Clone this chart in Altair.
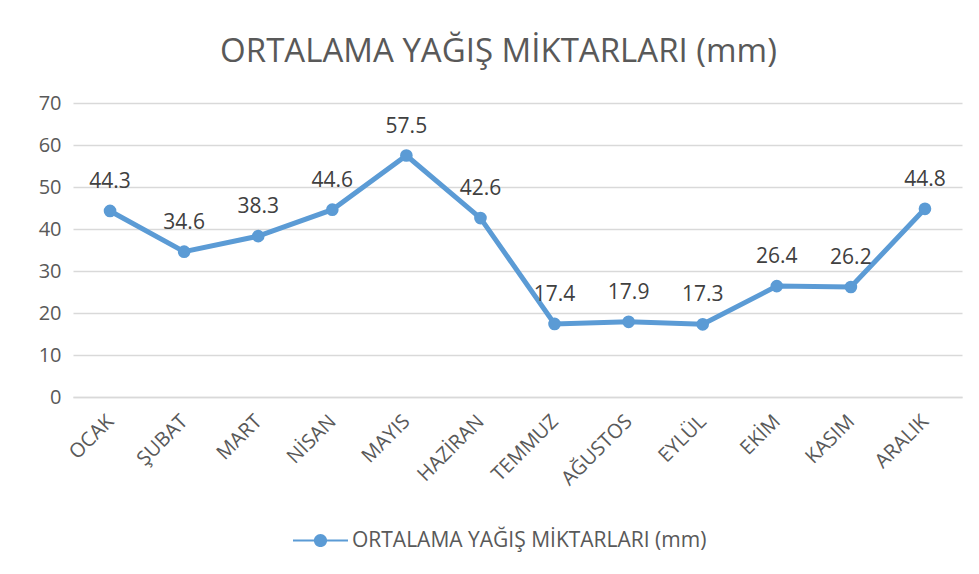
import altair as alt
import pandas as pd

months = ["OCAK", "ŞUBAT", "MART", "NİSAN", "MAYIS", "HAZİRAN",
          "TEMMUZ", "AĞUSTOS", "EYLÜL", "EKİM", "KASIM", "ARALIK"]
values = [44.3, 34.6, 38.3, 44.6, 57.5, 42.6, 17.4, 17.9, 17.3, 26.4, 26.2, 44.8]
series_name = "ORTALAMA YAĞIŞ MİKTARLARI (mm)"
title_text = "ORTALAMA YAĞIŞ MİKTARLARI (mm)"

df = pd.DataFrame({"ay": months, "deger": values, "seri": [series_name] * len(months)})

FONT = "Open Sans"
TXT = "#595959"
BLUE = "#5B9BD5"

legend_path = ("M-1,-0.04 L1,-0.04 L1,0.04 L-1,0.04 Z "
               "M0.24,0 A0.24,0.24 0 1,1 -0.24,0 A0.24,0.24 0 1,1 0.24,0 Z")

x_enc = alt.X("ay:N", sort=months, title=None,
              scale=alt.Scale(paddingInner=0, paddingOuter=0),
              axis=alt.Axis(labelAngle=-45, labelAlign="right", labelBaseline="middle",
                            labelFontSize=20, labelColor=TXT, labelFont=FONT,
                            labelPadding=21, ticks=False, domainColor="#D9D9D9",
                            domainWidth=1.3, grid=False))
y_enc = alt.Y("deger:Q", title=None,
              scale=alt.Scale(domain=[0, 70], nice=False),
              axis=alt.Axis(values=[0, 10, 20, 30, 40, 50, 60, 70], labelFontSize=20,
                            labelColor=TXT, labelFont=FONT, ticks=False, domain=False,
                            gridColor="#D9D9D9", gridWidth=1.3, labelPadding=12))

base = alt.Chart(df).encode(x=x_enc, y=y_enc)

line = base.mark_line(color=BLUE, strokeWidth=5)
points = base.mark_circle(size=160, opacity=1).encode(
    color=alt.Color("seri:N", scale=alt.Scale(range=[BLUE]), title=None,
                    legend=alt.Legend(orient="none", legendX=220, legendY=410,
                                      symbolType=legend_path, symbolSize=3025,
                                      symbolStrokeWidth=0, symbolOpacity=1,
                                      labelFontSize=21, labelColor=TXT, labelFont=FONT,
                                      labelOffset=4, labelLimit=0))
)
labels = base.mark_text(dy=-29, baseline="middle", align="center", fontSize=21,
                        font=FONT, color="#404040").encode(text=alt.Text("deger:Q", format=".1f"))

chart = alt.layer(line, points, labels).properties(
    width=889, height=294,
    title=alt.TitleParams(title_text, fontSize=33, font=FONT, fontWeight="normal",
                          color=TXT, anchor="middle", dx=-19, offset=24),
    autosize=alt.AutoSizeParams(type="none"),
    padding={"left": 65, "top": 95, "right": 9, "bottom": 165},
).configure_view(stroke=None)

chart.save("out.html", embed_options={"renderer": "svg", "actions": False})
